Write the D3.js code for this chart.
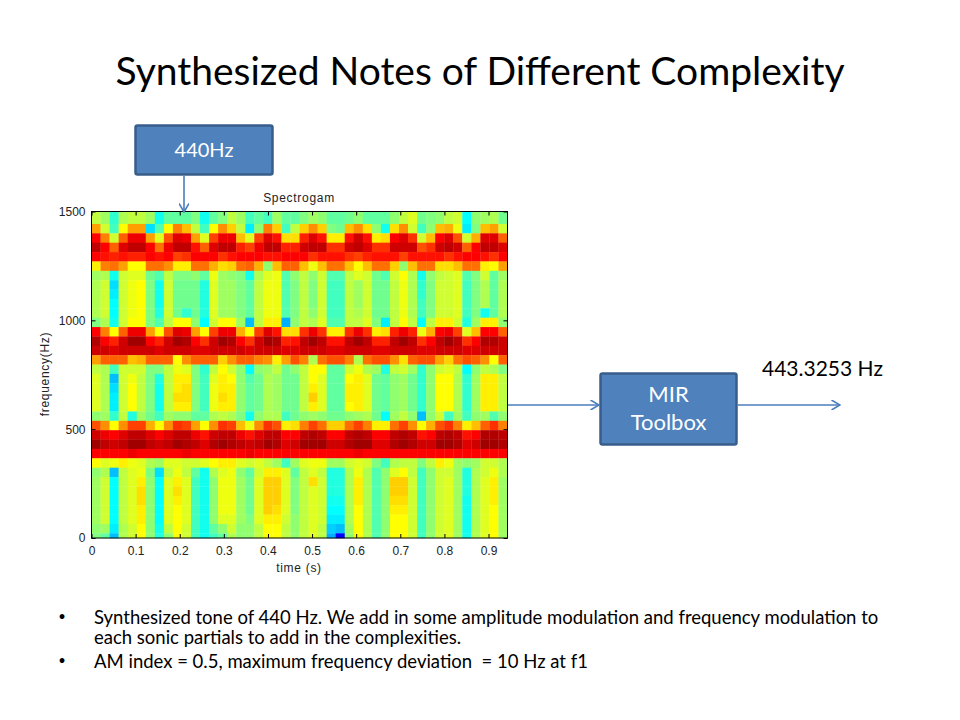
<!DOCTYPE html>
<html>
<head>
<meta charset="utf-8">
<script src="https://d3js.org/d3.v7.min.js"></script>
<style>
  html, body { margin: 0; padding: 0; background: #fff; }
  svg { display: block; }
  .slide { font-family: Lato, "Open Sans", sans-serif; white-space: pre; }
  .matlab { font-family: "Liberation Sans", Arial, sans-serif; font-size: 12px; fill: #222; }
  .matlab.label { letter-spacing: 0.7px; }
</style>
</head>
<body>
<div id="chart"></div>
<script>
// chart labels
const slideTitle = "Synthesized Notes of Different Complexity";
const plotTitle = "Spectrogam";
const xLabel = "time (s)";
const yLabel = "frequency(Hz)";
const xTicks = [0, 0.1, 0.2, 0.3, 0.4, 0.5, 0.6, 0.7, 0.8, 0.9];
const yTicks = [0, 500, 1000, 1500];
const bullets = [
  ["Synthesized tone of 440 Hz. We add in some amplitude modulation and frequency modulation to",
   "each sonic partials to add in the complexities."],
  ["AM index = 0.5, maximum frequency deviation  = 10 Hz at f1"]
];

// time and frequency of the spectrogram bins
const timeStep = 0.0205;
const freqStep = 43.07;
const timeMax = 0.943;
const freqMax = 1500;

// jet colour levels, top row first, 46 time columns per row
const levels = [
  [36,34,27,35,36,36,34,25,30,30,30,32,25,30,32,36,34,28,30,28,34,30,30,32,34,33,30,30,31,33,30,30,30,33,36,38,31,32,33,36,37,24,33,34,35,31],
  [46,37,28,40,46,46,22,29,40,48,44,36,28,40,47,43,36,23,33,48,43,28,36,43,47,43,32,31,44,47,42,33,25,42,47,37,28,33,44,45,39,23,32,44,46,37],
  [56,48,37,50,57,57,46,38,51,58,57,46,38,52,57,57,44,38,52,58,55,42,42,54,58,55,41,41,55,59,55,41,42,56,58,53,37,44,56,58,51,37,45,58,58,50],
  [60,56,50,58,60,60,56,49,57,60,60,55,50,58,60,60,54,52,57,60,60,54,54,59,60,60,53,53,59,60,58,53,53,59,59,59,51,53,59,60,59,50,56,60,60,58],
  [56,55,54,55,54,54,56,55,56,52,53,56,56,56,53,55,56,56,56,55,55,56,56,56,53,55,55,55,53,52,54,55,55,55,52,55,55,55,55,53,55,56,56,55,53,56],
  [41,48,49,46,40,40,49,49,47,41,41,49,49,45,42,43,49,50,45,33,44,50,50,44,39,44,49,49,44,40,44,49,49,43,33,44,49,49,42,42,44,49,49,41,40,46],
  [34,35,25,37,38,38,31,29,36,32,32,33,30,39,34,33,32,25,35,38,39,29,33,36,33,37,29,29,36,38,37,31,29,37,40,35,25,33,36,37,38,29,32,37,30,34],
  [35,37,22,37,39,40,32,25,37,31,31,31,26,38,34,34,32,30,36,39,39,29,32,36,32,37,28,28,36,34,37,31,31,36,39,35,27,32,37,37,38,28,32,35,30,35],
  [35,37,23,37,39,40,32,25,37,31,31,31,26,38,34,34,32,30,36,39,39,29,32,36,32,37,28,28,36,34,37,31,31,36,39,35,27,32,37,37,38,28,32,35,30,35],
  [35,37,24,37,39,40,32,25,37,31,31,31,26,38,34,34,32,30,36,39,39,29,32,36,32,37,28,28,36,34,37,31,31,36,39,35,28,32,37,37,38,28,32,35,30,35],
  [35,37,24,37,39,40,32,26,37,31,27,31,26,38,34,34,32,30,36,39,39,29,32,36,33,37,28,28,36,35,37,31,31,36,39,35,28,32,37,37,38,28,32,25,30,35],
  [32,35,25,37,40,40,32,29,36,40,40,33,24,37,40,40,34,20,36,41,41,19,33,36,35,38,29,29,36,36,38,32,23,36,40,36,24,36,41,41,37,26,34,41,41,33],
  [56,48,40,50,57,57,46,40,51,58,57,46,40,52,57,57,45,40,52,58,55,42,42,53,57,53,41,41,53,57,53,41,42,54,57,54,39,45,56,57,52,38,44,56,56,50],
  [61,56,54,59,62,62,56,54,59,62,61,56,53,59,62,61,56,53,59,62,61,54,55,60,62,60,55,55,60,62,60,54,54,60,62,60,53,56,60,62,60,53,56,61,61,59],
  [59,59,58,59,59,59,59,58,59,59,59,58,58,59,59,59,59,58,59,59,59,58,58,59,59,59,58,58,59,59,59,58,58,59,59,59,58,58,59,59,59,58,58,59,59,59],
  [46,50,50,50,44,45,50,50,50,40,47,50,50,50,43,47,50,50,48,47,41,46,51,48,35,49,51,51,48,35,49,51,51,47,42,50,51,51,46,43,49,51,50,47,40,50],
  [36,35,28,37,37,37,32,32,36,39,38,32,27,36,40,37,33,24,33,34,36,31,33,36,40,40,30,30,37,39,35,34,26,36,37,34,27,33,37,38,36,24,33,36,35,32],
  [38,35,20,37,39,36,32,26,36,41,41,32,28,38,41,40,33,29,31,35,34,31,31,36,40,38,30,30,40,41,38,31,30,33,34,31,27,33,40,40,35,27,34,41,41,36],
  [38,35,22,37,40,36,32,25,36,41,42,32,28,39,41,41,33,30,31,35,34,31,31,36,41,38,30,30,41,41,38,31,30,33,34,31,27,33,40,40,35,27,34,41,41,36],
  [38,35,23,37,40,36,32,25,36,42,42,32,28,39,42,41,33,30,31,35,34,31,31,36,43,38,30,30,41,41,38,31,30,33,34,31,27,33,40,40,35,27,34,41,41,36],
  [38,35,23,37,40,36,32,25,36,41,41,32,28,39,41,41,33,30,31,35,34,31,31,36,41,38,30,30,40,41,38,31,30,33,34,31,27,33,40,40,35,27,34,41,41,36],
  [33,34,27,36,26,34,31,28,34,33,33,30,30,35,36,35,32,25,33,35,35,28,31,33,34,33,31,31,33,34,35,31,24,34,36,33,20,33,37,28,34,28,33,34,29,33],
  [51,47,40,47,52,52,45,40,47,53,52,46,40,47,53,52,44,39,47,53,51,41,42,48,52,49,43,43,49,52,48,41,41,49,52,47,40,45,51,53,48,41,44,50,53,48],
  [59,57,56,58,60,60,58,56,58,60,60,57,55,59,60,60,57,55,58,60,60,56,56,60,61,60,56,56,60,61,60,56,56,60,61,60,55,56,60,61,60,55,56,61,61,60],
  [62,60,59,60,62,62,60,59,60,62,61,60,58,61,62,61,60,59,60,62,61,58,59,62,62,62,59,59,61,62,62,58,58,61,62,61,59,59,62,62,61,58,59,62,62,61],
  [56,56,56,56,57,56,56,56,56,56,57,56,56,56,56,56,56,57,56,56,56,56,56,56,56,56,56,56,56,57,56,56,56,56,56,56,56,56,56,56,56,56,56,56,56,56],
  [40,38,39,41,39,38,35,34,38,38,37,37,38,40,41,41,38,37,38,36,34,28,34,38,39,39,34,34,37,38,37,32,28,35,36,36,32,36,41,39,34,33,34,37,37,35],
  [33,35,20,36,38,39,32,22,36,39,36,30,25,35,38,39,33,30,37,41,41,38,30,36,38,36,26,26,35,39,35,29,33,38,40,36,28,33,37,37,34,26,35,37,39,35],
  [34,37,24,36,38,41,33,24,38,41,38,28,25,33,39,39,34,31,38,43,43,38,32,36,42,37,26,26,35,41,35,29,33,43,43,37,28,33,37,38,34,26,35,38,41,34],
  [34,37,24,36,38,42,33,24,38,42,38,28,25,33,39,39,34,31,38,43,43,38,32,36,38,37,26,26,35,41,35,29,33,43,43,37,28,33,37,38,34,26,35,38,41,34],
  [34,37,24,36,38,42,33,24,38,41,38,28,25,33,39,39,34,31,38,43,43,38,32,36,38,37,25,25,35,41,35,29,33,42,42,37,28,33,37,38,34,25,35,38,41,34],
  [34,37,24,36,38,41,33,24,38,40,38,28,25,33,39,39,34,31,38,43,42,38,32,36,38,37,24,24,35,40,35,29,33,41,41,37,28,33,37,38,34,25,35,38,40,34],
  [34,37,24,36,38,41,33,24,38,40,38,28,25,33,38,38,34,32,38,41,41,37,33,36,38,37,23,23,35,40,35,29,33,40,40,37,28,33,37,38,34,25,35,38,40,34],
  [33,34,23,35,37,40,33,25,36,40,37,28,25,30,33,37,33,33,36,40,40,36,33,36,38,36,21,20,34,40,35,29,33,40,40,37,28,33,37,38,34,25,35,38,40,34],
  [32,30,20,35,37,40,33,26,33,40,37,28,25,28,30,35,33,33,36,40,40,36,33,36,38,36,19, 8,33,40,35,29,33,40,40,37,28,33,37,38,34,25,35,38,40,34]
];

const svg = d3.select("#chart").append("svg")
  .attr("width", 960)
  .attr("height", 720);

// slide title
svg.append("text")
  .attr("class", "slide")
  .attr("x", 480)
  .attr("y", 85)
  .attr("text-anchor", "middle")
  .attr("font-size", 39)
  .attr("fill", "#000")
  .text(slideTitle);

// arrow head, open like the PowerPoint one
svg.append("defs").append("marker")
  .attr("id", "head")
  .attr("viewBox", "0 0 10 10")
  .attr("refX", 9.5)
  .attr("refY", 5)
  .attr("markerWidth", 10)
  .attr("markerHeight", 10)
  .attr("markerUnits", "userSpaceOnUse")
  .attr("orient", "auto")
  .append("path")
  .attr("d", "M1,0 L9.5,5 L1,10")
  .attr("fill", "none")
  .attr("stroke", "#4a7ebb")
  .attr("stroke-width", 1.6);

// plot area
const plotLeft = 91.5, plotRight = 507.5, plotTop = 211.5, plotBottom = 538;
const x = d3.scaleLinear().domain([0, timeMax]).range([plotLeft, plotRight]);
const y = d3.scaleLinear().domain([0, freqMax]).range([plotBottom, plotTop]);

const color = d3.scaleLinear()
  .domain([0, 8, 24, 40, 56, 64])
  .range(["#00008f", "#0000ff", "#00ffff", "#ffff00", "#ff0000", "#800000"]);

// bin edges: bottom row is half a bin, top row runs up to the axis limit
const nRows = levels.length;
function rowLow(r) {
  const k = nRows - 1 - r;
  return Math.max(0, (k - 0.5) * freqStep);
}
function rowHigh(r) {
  const k = nRows - 1 - r;
  return r === 0 ? freqMax : (k + 0.5) * freqStep;
}

const cells = [];
levels.forEach(function(row, r) {
  row.forEach(function(v, c) {
    cells.push({r: r, c: c, v: v});
  });
});

svg.append("g").selectAll("rect")
  .data(cells)
  .join("rect")
  .attr("x", d => x(d.c * timeStep))
  .attr("y", d => y(rowHigh(d.r)))
  .attr("width", d => x(Math.min(timeMax, (d.c + 1) * timeStep)) - x(d.c * timeStep) + 0.3)
  .attr("height", d => y(rowLow(d.r)) - y(rowHigh(d.r)) + 0.3)
  .attr("fill", d => color(d.v));

// frame and ticks, all pointing inward
svg.append("rect")
  .attr("x", plotLeft)
  .attr("y", plotTop)
  .attr("width", plotRight - plotLeft)
  .attr("height", plotBottom - plotTop)
  .attr("fill", "none")
  .attr("stroke", "#000")
  .attr("stroke-width", 1);

const xAxis = d3.axisBottom(x).tickValues(xTicks).tickFormat(d3.format("")).tickSizeInner(-4).tickSizeOuter(0).tickPadding(8);
const yAxis = d3.axisLeft(y).tickValues(yTicks).tickFormat(d3.format("d")).tickSizeInner(-4).tickSizeOuter(0).tickPadding(6);

svg.append("g").attr("transform", "translate(0," + plotBottom + ")").call(xAxis);
svg.append("g").attr("transform", "translate(" + plotLeft + ",0)").call(yAxis);
svg.append("g").attr("transform", "translate(0," + plotTop + ")")
  .call(d3.axisTop(x).tickValues(xTicks).tickFormat("").tickSizeInner(-4).tickSizeOuter(0));
svg.append("g").attr("transform", "translate(" + plotRight + ",0)")
  .call(d3.axisRight(y).tickValues(yTicks).tickFormat("").tickSizeInner(-4).tickSizeOuter(0));

svg.selectAll(".domain").remove();
svg.selectAll(".tick text")
  .attr("class", "matlab")
  .attr("font-family", null)
  .attr("font-size", null);

svg.append("text").attr("class", "matlab label")
  .attr("x", 299).attr("y", 202).attr("text-anchor", "middle").text(plotTitle);
svg.append("text").attr("class", "matlab label")
  .attr("x", 299).attr("y", 572).attr("text-anchor", "middle").text(xLabel);
svg.append("text").attr("class", "matlab label")
  .attr("transform", "translate(49,374) rotate(-90)").attr("text-anchor", "middle").text(yLabel);

// flow boxes
function box(bx, by, w, h, lines, size) {
  svg.append("rect")
    .attr("x", bx).attr("y", by).attr("width", w).attr("height", h).attr("rx", 2)
    .attr("fill", "#4f81bd").attr("stroke", "#385d8a").attr("stroke-width", 2.5);
  lines.forEach(function(t, i) {
    svg.append("text")
      .attr("class", "slide")
      .attr("x", bx + w / 2)
      .attr("y", by + h / 2 + 7 + (i - (lines.length - 1) / 2) * 28)
      .attr("text-anchor", "middle")
      .attr("font-size", size)
      .attr("fill", "#fff")
      .text(t);
  });
}
box(135.5, 125.5, 137, 49, ["440Hz"], 20);
box(600.5, 373.5, 136, 71, ["MIR", "Toolbox"], 22);

function arrow(x1, y1, x2, y2) {
  svg.append("line")
    .attr("x1", x1).attr("y1", y1).attr("x2", x2).attr("y2", y2)
    .attr("stroke", "#4a7ebb").attr("stroke-width", 1.6)
    .attr("marker-end", "url(#head)");
}
arrow(184, 176, 184, 212);
arrow(508, 405, 599, 405);
arrow(738, 405, 840, 405);

svg.append("text")
  .attr("class", "slide")
  .attr("x", 762).attr("y", 376)
  .attr("font-size", 21)
  .attr("fill", "#000")
  .text("443.3253 Hz");

// bullet text
const bulletTops = [624, 668];
bullets.forEach(function(lines, i) {
  svg.append("text").attr("class", "slide")
    .attr("x", 62).attr("y", bulletTops[i] - 3.5)
    .attr("text-anchor", "middle").attr("font-size", 13).text("•");
  lines.forEach(function(t, j) {
    svg.append("text").attr("class", "slide")
      .attr("x", 94).attr("y", bulletTops[i] + j * 20)
      .attr("font-size", 18.5).attr("fill", "#000")
      .text(t);
  });
});
</script>
</body>
</html>
